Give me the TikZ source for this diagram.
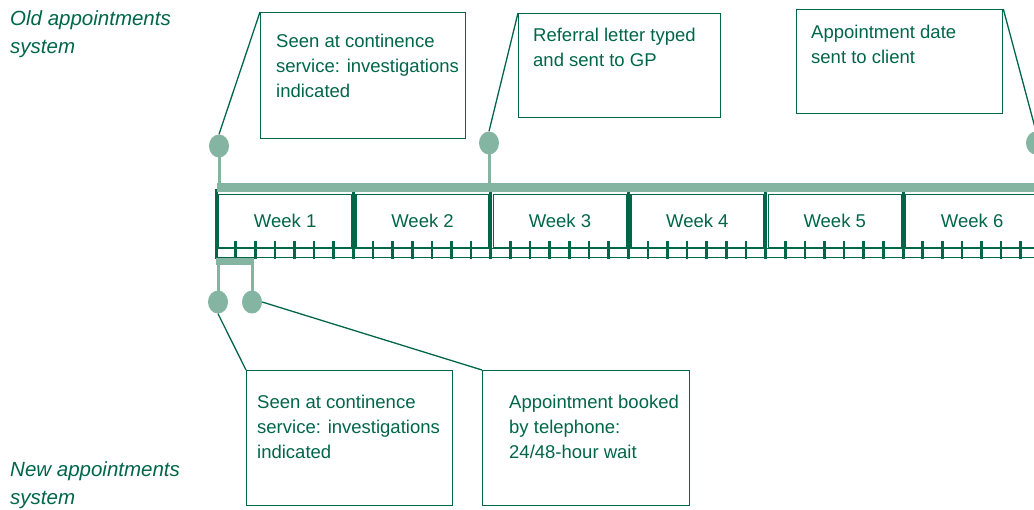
\documentclass[tikz,border=0pt]{standalone}
\usepackage{fontspec}
\setmainfont{Liberation Sans}
\usetikzlibrary{positioning,shapes.geometric}
\definecolor{dkgreen}{RGB}{0,102,72}
\definecolor{ltgreen}{RGB}{132,181,163}

\begin{document}
\begin{tikzpicture}[x=1pt,y=-1pt,
  every node/.style={text=dkgreen,font=\fontsize{18.5}{25}\selectfont},
  note/.style={inner sep=0pt,align=left},
  side/.style={note,anchor=north west,font=\itshape\fontsize{20.5}{28}\selectfont},
  callout/.style={draw=dkgreen,line width=1.3pt,anchor=north west,inner sep=0pt},
  weekbox/.style={draw=dkgreen,line width=1.3pt,anchor=north west,minimum width=133pt,minimum height=53pt,inner sep=0pt},
  pin/.style={ellipse,fill=ltgreen,minimum width=20pt,minimum height=23pt,inner sep=0pt},
  bar/.style={fill=ltgreen,anchor=north west,inner sep=0pt},
  stem/.style={ltgreen,line width=3pt},
  lead/.style={dkgreen,line width=1.3pt},
  daytick/.style={dkgreen,line width=2.6pt}]
\useasboundingbox (0,0) rectangle (1034,509);
\clip (0,0) rectangle (1034,509);

% system labels
\node[side] (oldlab) at (10,10) {Old appointments\\system};
\node[side] (newlab) at (10,461) {New appointments\\system};

% time line
\draw[dkgreen,line width=1pt] (216,248) -- (1040,248);
\draw[dkgreen,line width=1pt] (216,257) -- (1040,257);
\foreach \n [evaluate=\n as \xs using 216+137.4*(\n-1)] in {1,...,6} {
  \node[weekbox] (week\n) at ({\xs+2},194) {Week \n};
  \draw[dkgreen,line width=3pt] (\xs,189) -- (\xs,259);
  \foreach \k in {1,...,6}
    \draw[daytick] ({\xs+19.6*\k},241) -- ++(0,18);
}
\node[bar,minimum width=820pt,minimum height=9.5pt] (oldbar) at (217,182.5) {};
\node[bar,minimum width=38pt,minimum height=7pt] (newbar) at (216,258) {};

% pins
\node[pin] (pa) at (219,146) {};
\node[pin] (pb) at (489,143) {};
\node[pin] (pc) at (1036,143) {};
\node[pin] (pd) at (218,302) {};
\node[pin] (pe) at (252,302) {};
\draw[stem] (pa.center) -- (pa |- oldbar.north);
\draw[stem] (pb.center) -- (pb |- oldbar.north);
\draw[stem] (pd.center) -- (pd |- newbar.south);
\draw[stem] (pe.center) -- (pe |- newbar.south);

% old system notes
\node[callout,minimum width=205pt,minimum height=126pt] (boxa) at (260,12) {};
\node[note,below right=22pt and 16pt of boxa.north west] (texta) {Seen at continence\\service: investigations\\indicated};
\node[callout,minimum width=202pt,minimum height=104pt] (boxb) at (518,13) {};
\node[note,below right=15pt and 15pt of boxb.north west] (textb) {Referral letter typed\\and sent to GP};
\node[callout,minimum width=206pt,minimum height=104pt] (boxc) at (796,9) {};
\node[note,below right=16pt and 15pt of boxc.north west] (textc) {Appointment date\\sent to client};

% new system notes
\node[callout,minimum width=206pt,minimum height=135pt] (boxd) at (246,370) {};
\node[note,below right=25pt and 11pt of boxd.north west] (textd) {Seen at continence\\service: investigations\\indicated};
\node[callout,minimum width=207pt,minimum height=135pt] (boxe) at (482,370) {};
\node[note,below right=25pt and 27pt of boxe.north west] (texte) {Appointment booked\\by telephone:\\24/48-hour wait};

% leader lines
\draw[lead] (pa.north) -- (boxa.north west);
\draw[lead] (pb.north) -- (boxb.north west);
\draw[lead] (boxc.north east) -- (pc.north);
\draw[lead] (pd.south) -- (boxd.north west);
\draw[lead] (pe.east) -- (boxe.north west);
\end{tikzpicture}
\end{document}
